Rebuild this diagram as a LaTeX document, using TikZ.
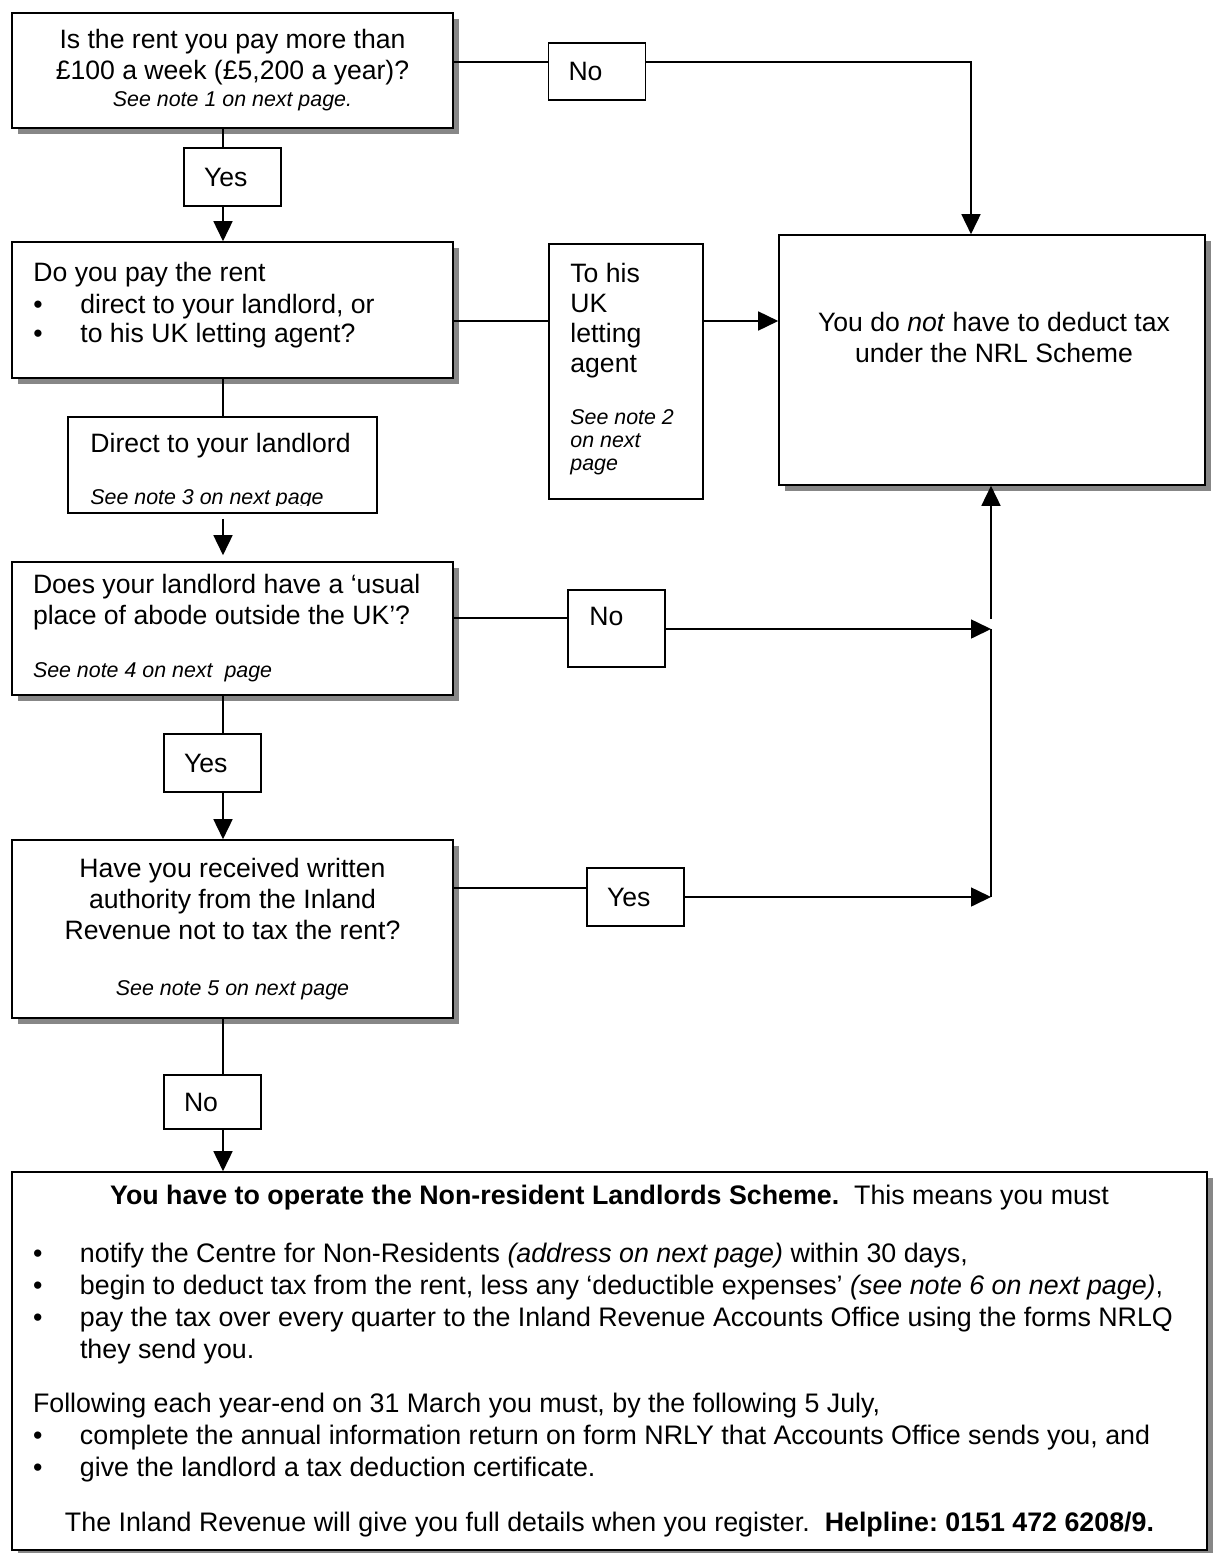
\documentclass[tikz,border=0pt]{standalone}
\usepackage{fontspec}
\setmainfont{Liberation Sans}
\usetikzlibrary{arrows.meta,
                positioning,
                shadows
            }

\newcommand{\notefont}{\fontsize{10.7pt}{11.5pt}\selectfont\itshape}
\newcommand{\bul}{\makebox[23.5pt][l]{\textbullet}}

\tikzset{
    box/.style={draw, line width=0.8pt, fill=white, inner sep=0pt},
    qbox/.style={box, drop shadow={shadow xshift=3pt, shadow yshift=-3pt, fill=black!47, opacity=1}},
    choice/.style={box, minimum width=48.5pt, minimum height=29pt, text width=28.5pt, align=flush left},
    txt/.style={inner sep=0pt, align=flush left},
    link/.style={line width=0.8pt},
    arr/.style={-{Triangle[length=10pt, width=9.5pt]}}
}

\begin{document}
\frenchspacing
\begin{tikzpicture}[x=0.5pt, y=-0.5pt, font=\fontsize{13.3pt}{15.5pt}\selectfont]
            \useasboundingbox (0,0) rectangle (1215,1553);

            \node[qbox, minimum width=220.5pt, minimum height=57.5pt, text width=199.5pt, align=flush center] (rent) at (232.5,70.5)
                {Is the rent you pay more than\\ £100 a week (£5,200 a year)?\\[-2pt] {\notefont See note 1 on next page.}};
            \node[choice, minimum height=28.5pt] (no1) at (597,71.5) {No};
            \node[choice] (yes1) at (232.5,177) {Yes};

            \node[qbox, minimum width=220.5pt, minimum height=68pt] (pay) at (232.5,310) {};
            \node[txt, text width=199.5pt, anchor=base west] (paytext) at (33,281)
                {Do you pay the rent\\[0.5pt] \bul direct to your landlord, or\\[-1pt] \bul to his UK letting agent?};

            \node[box, minimum width=77pt, minimum height=127.5pt] (agent) at (626,371.5) {};
            \node[txt, text width=60pt, anchor=base west] (agenttext) at (570,282)
                {To his\\[-0.5pt] UK\\[-0.5pt] letting\\[-0.5pt] agent\\[10.5pt] {\notefont See note 2}\\[-4pt] {\notefont on next}\\[-4pt] {\notefont page}};

            \node[qbox, minimum width=213pt, minimum height=125pt] (notax) at (992,360) {};
            \node[inner sep=0pt, text width=200pt, align=flush center, anchor=base] (notaxtext) at (994,331)
                {You do \textit{not} have to deduct tax\\ under the NRL Scheme};

            \node[box, minimum width=154.5pt, minimum height=48pt] (direct) at (222.5,465) {};
            \begin{scope}
                \clip (direct.north west) rectangle ([yshift=4pt]direct.south east);
                \node[txt, text width=140pt, anchor=base west] (directtext) at (90,452)
                    {Direct to your landlord\\[10.5pt] {\notefont See note 3 on next page}};
            \end{scope}

            \node[qbox, minimum width=220.5pt, minimum height=66.5pt, text width=199.5pt, align=flush left] (abode) at (232.5,628.5)
                {Does your landlord have a ‘usual\\ place of abode outside the UK’?\\[11pt] {\notefont See note 4 on next~ page}};
            \node[box, minimum width=48.5pt, minimum height=38.5pt] (no2) at (616.5,628.5) {};
            \node[txt, anchor=base west] (no2text) at (589,625) {No};
            \node[choice] (yes2) at (212.5,763) {Yes};

            \node[qbox, minimum width=220.5pt, minimum height=89pt, text width=199.5pt, align=flush center] (auth) at (232.5,929)
                {Have you received written\\ authority from the Inland\\ Revenue not to tax the rent?\\[12.5pt] {\notefont See note 5 on next page}};
            \node[choice] (yes3) at (635.5,897) {Yes};
            \node[choice, minimum height=27pt] (no3) at (212.5,1102) {No};

            \node[qbox, minimum width=597.5pt, minimum height=189pt, text width=576.5pt, align=flush left,
                  font=\fontsize{13.4pt}{16pt}\selectfont] (scheme) at (609.5,1361)
                {\makebox[\linewidth]{\textbf{You have to operate the Non-resident Landlords Scheme.}\ \ This means you must}\\[13pt]
                 \bul notify the Centre for Non-Residents \textit{(address on next page)} within 30 days,\\
                 \bul begin to deduct tax from the rent, less any ‘deductible expenses’ \textit{(see note 6 on next page)},\\
                 \bul pay the tax over every quarter to the Inland Revenue Accounts Office using the forms NRLQ\\
                 \hspace*{23.5pt}they send you.\\[11pt]
                 Following each year-end on 31 March you must, by the following 5 July,\\
                 \bul complete the annual information return on form NRLY that Accounts Office sends you, and\\
                 \bul give the landlord a tax deduction certificate.\\[11.5pt]
                 \makebox[\linewidth]{The Inland Revenue will give you full details when you register.\ \ \textbf{Helpline: 0151 472 6208/9.}}};

            \coordinate (col) at (223,0);
            \coordinate (drop) at (971,62);
            \coordinate (row2) at (0,321);
            \coordinate (row3) at (0,618);
            \coordinate (join3) at (991,629);
            \coordinate (row4) at (0,888);
            \coordinate (join4) at (991,897);
            \coordinate (rise) at (991,619);

            \draw[link] (rent.south -| col) -- (yes1.north -| col);
            \draw[link, arr] (yes1.south -| col) -- (pay.north -| col);
            \draw[link] (pay.south -| col) -- (direct.north -| col);
            \draw[link, arr, shorten <=2.5pt, shorten >=3pt] (direct.south -| col) -- (abode.north -| col);
            \draw[link] (abode.south -| col) -- (yes2.north -| col);
            \draw[link, arr] (yes2.south -| col) -- (auth.north -| col);
            \draw[link] (auth.south -| col) -- (no3.north -| col);
            \draw[link, arr] (no3.south -| col) -- (scheme.north -| col);

            \draw[link] (rent.east |- drop) -- (no1.west |- drop);
            \draw[link, arr] (no1.east |- drop) -| (notax.north -| drop);
            \draw[link] (pay.east |- row2) -- (agent.west |- row2);
            \draw[link, arr] (agent.east |- row2) -- (notax.west |- row2);
            \draw[link] (abode.east |- row3) -- (no2.west |- row3);
            \draw[link, arr] (no2.east |- join3) -- (join3);
            \draw[link] (auth.east |- row4) -- (yes3.west |- row4);
            \draw[link, arr] (yes3.east |- join4) -- (join4);
            \draw[link] (join4) -- (join3);
            \draw[link, arr] (rise) -- (notax.south -| rise);
        \end{tikzpicture}
\end{document}
